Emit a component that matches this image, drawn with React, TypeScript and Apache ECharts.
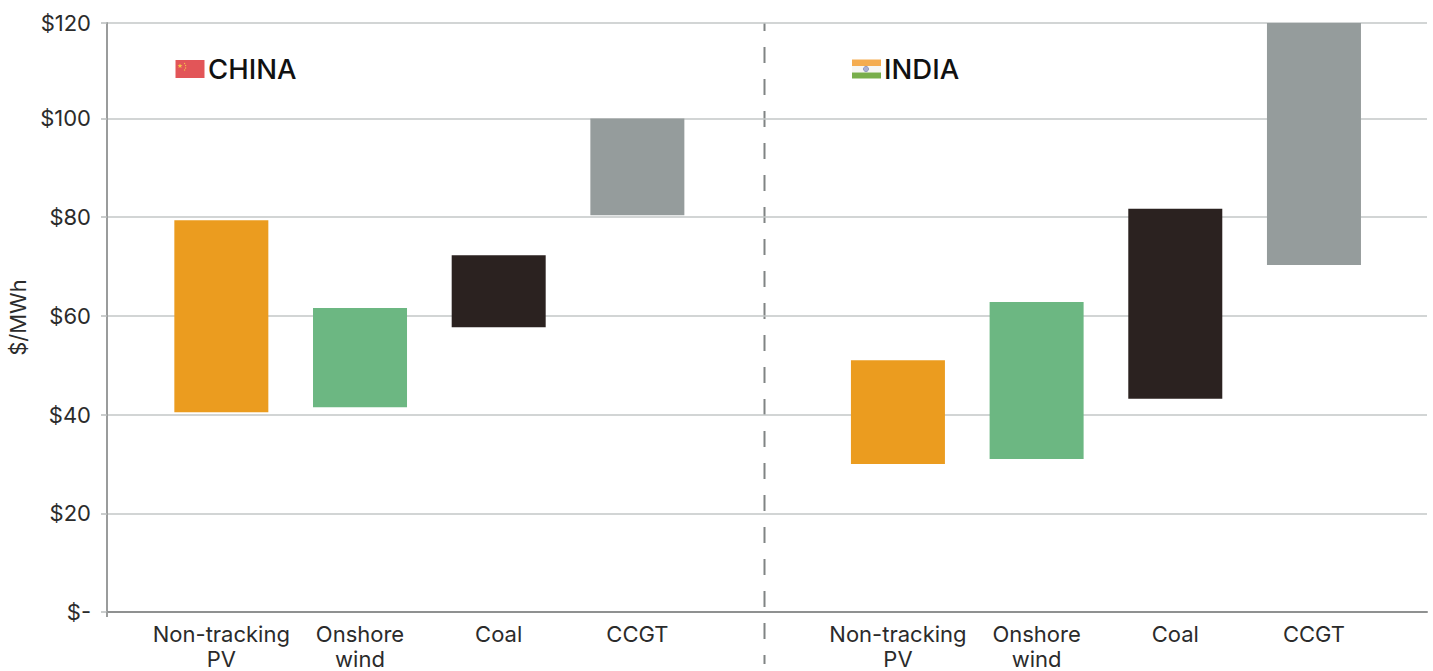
import React, { useEffect, useRef } from "react";
import * as echarts from "echarts";

// Levelised cost ranges, $/MWh, by technology for each country.
const technologies = ["Non-tracking\nPV", "Onshore\nwind", "Coal", "CCGT"];
const chinaLow = [40.5, 41.5, 57.7, 80.4];
const chinaHigh = [79.4, 61.6, 72.3, 100];
const indiaLow = [30, 31, 43.2, 70.3];
const indiaHigh = [51, 62.8, 81.7, 120];
const techColors = ["#EB9C1F", "#6CB782", "#2B2220", "#959C9C"];
const yTickLabels = ["$-", "$20", "$40", "$60", "$80", "$100", "$120"];
const FONT = "Inter";
const TEXT = "#2b2b2b";
// The top rule sits a little under the regular 20-unit step, so the scale ends just short of 120.
const Y_TOP = 119.35;

const PLOT_TOP = 23;
const PLOT_H = 589;

const starPoints = (cx: number, cy: number, r: number) => {
  const pts: number[][] = [];
  for (let i = 0; i < 10; i++) {
    const a = -Math.PI / 2 + (i * Math.PI) / 5;
    const rad = i % 2 === 0 ? r : r * 0.42;
    pts.push([cx + rad * Math.cos(a), cy + rad * Math.sin(a)]);
  }
  return pts;
};

const rangeSeries = (low: number[], high: number[], axis: number) => [
  {
    type: "bar",
    stack: `range${axis}`,
    xAxisIndex: axis,
    yAxisIndex: axis,
    barWidth: 94,
    silent: true,
    itemStyle: { color: "transparent" },
    data: low,
  },
  {
    type: "bar",
    stack: `range${axis}`,
    xAxisIndex: axis,
    yAxisIndex: axis,
    barWidth: 94,
    silent: true,
    data: high.map((h, i) => ({
      value: +(h - low[i]).toFixed(1),
      itemStyle: { color: techColors[i] },
    })),
  },
];

const categoryAxis = (gridIndex: number) => ({
  type: "category",
  gridIndex,
  data: technologies,
  axisLine: { show: false },
  axisTick: { show: false },
  axisLabel: {
    fontFamily: FONT,
    fontSize: 22,
    color: TEXT,
    lineHeight: 25,
    margin: 9,
    interval: 0,
  },
});

const hiddenValueAxis = (gridIndex: number) => ({
  type: "value",
  gridIndex,
  min: 0,
  max: Y_TOP,
  interval: 20,
  show: false,
});

const flagTitle = (label: string, x: number) => ({
  type: "text",
  x,
  y: 69,
  silent: true,
  style: {
    text: label,
    fontFamily: FONT,
    fontSize: 27.5,
    fontWeight: 500,
    fill: "#111111",
    verticalAlign: "middle",
  },
});

export default function App() {
  const ref = useRef<HTMLDivElement>(null);

  useEffect(() => {
    const chart = echarts.init(ref.current!, undefined, { renderer: "svg" });
    chart.setOption({
      animation: false,
      backgroundColor: "#ffffff",
      // The second label line runs close to the page edge, so the plot keeps its size regardless.
      grid: [
        { left: 107, width: 1320, top: PLOT_TOP, height: PLOT_H, outerBoundsMode: "none" },
        { left: 152, width: 554.7, top: PLOT_TOP, height: PLOT_H, outerBoundsMode: "none" },
        { left: 828.6, width: 554.7, top: PLOT_TOP, height: PLOT_H, outerBoundsMode: "none" },
      ],
      xAxis: [
        {
          type: "value",
          gridIndex: 0,
          min: 0,
          max: 1,
          interval: 1,
          splitLine: { show: false },
          axisLabel: { show: false },
          axisLine: { show: true, lineStyle: { color: "#8f9191", width: 2 } },
          axisTick: { show: true, customValues: [0], length: 5, lineStyle: { color: "#9a9c9c", width: 2 } },
        },
        categoryAxis(1),
        categoryAxis(2),
      ],
      yAxis: [
        {
          type: "value",
          gridIndex: 0,
          min: 0,
          max: Y_TOP,
          interval: 20,
          name: "$/MWh",
          nameLocation: "middle",
          nameGap: 78,
          nameRotate: 90,
          nameTextStyle: { fontFamily: FONT, fontSize: 22, color: TEXT },
          axisLine: { show: true, lineStyle: { color: "#9a9c9c", width: 2 } },
          axisTick: { show: true, length: 6, lineStyle: { color: "#b9bdbd", width: 1.5 } },
          axisLabel: {
            fontFamily: FONT,
            fontSize: 22,
            color: TEXT,
            margin: 16,
            formatter: (_v: number, i: number) => yTickLabels[i],
          },
          splitLine: { show: true, lineStyle: { color: "#c3c7c7", width: 1.5 } },
        },
        hiddenValueAxis(1),
        hiddenValueAxis(2),
      ],
      series: [...rangeSeries(chinaLow, chinaHigh, 1), ...rangeSeries(indiaLow, indiaHigh, 2)],
      graphic: [
        // Divider between the two country panels
        {
          type: "line",
          silent: true,
          shape: { x1: 764.5, y1: 23, x2: 764.5, y2: 664 },
          style: { stroke: "#808484", lineWidth: 2, lineDash: [16, 16], lineDashOffset: 8 },
        },
        // China flag
        { type: "rect", silent: true, shape: { x: 175.5, y: 60, width: 29, height: 18 }, style: { fill: "#E25558" } },
        { type: "polygon", silent: true, shape: { points: starPoints(180, 66, 2.6) }, style: { fill: "#F4C64A" } },
        { type: "circle", silent: true, shape: { cx: 184.6, cy: 63.5, r: 0.6 }, style: { fill: "#F4C64A" } },
        { type: "circle", silent: true, shape: { cx: 185.6, cy: 65.5, r: 0.6 }, style: { fill: "#F4C64A" } },
        { type: "circle", silent: true, shape: { cx: 185.6, cy: 68, r: 0.6 }, style: { fill: "#F4C64A" } },
        { type: "circle", silent: true, shape: { cx: 184.6, cy: 70, r: 0.6 }, style: { fill: "#F4C64A" } },
        flagTitle("CHINA", 208),
        // India flag
        { type: "rect", silent: true, shape: { x: 852, y: 59.5, width: 29, height: 6.5 }, style: { fill: "#F4AC50" } },
        { type: "rect", silent: true, shape: { x: 852, y: 66, width: 29, height: 6.5 }, style: { fill: "#F6F6F4" } },
        { type: "rect", silent: true, shape: { x: 852, y: 72.5, width: 29, height: 6 }, style: { fill: "#78AE4B" } },
        { type: "circle", silent: true, shape: { cx: 866, cy: 69, r: 2.6 }, style: { fill: "#aab0d4", stroke: "#6f78ac", lineWidth: 0.6 } },
        flagTitle("INDIA", 884),
      ],
    });
    return () => chart.dispose();
  }, []);

  return (
    <div
      ref={ref}
      style={{ position: "fixed", left: 0, top: 0, width: 1433, height: 671, background: "#fff" }}
    />
  );
}
